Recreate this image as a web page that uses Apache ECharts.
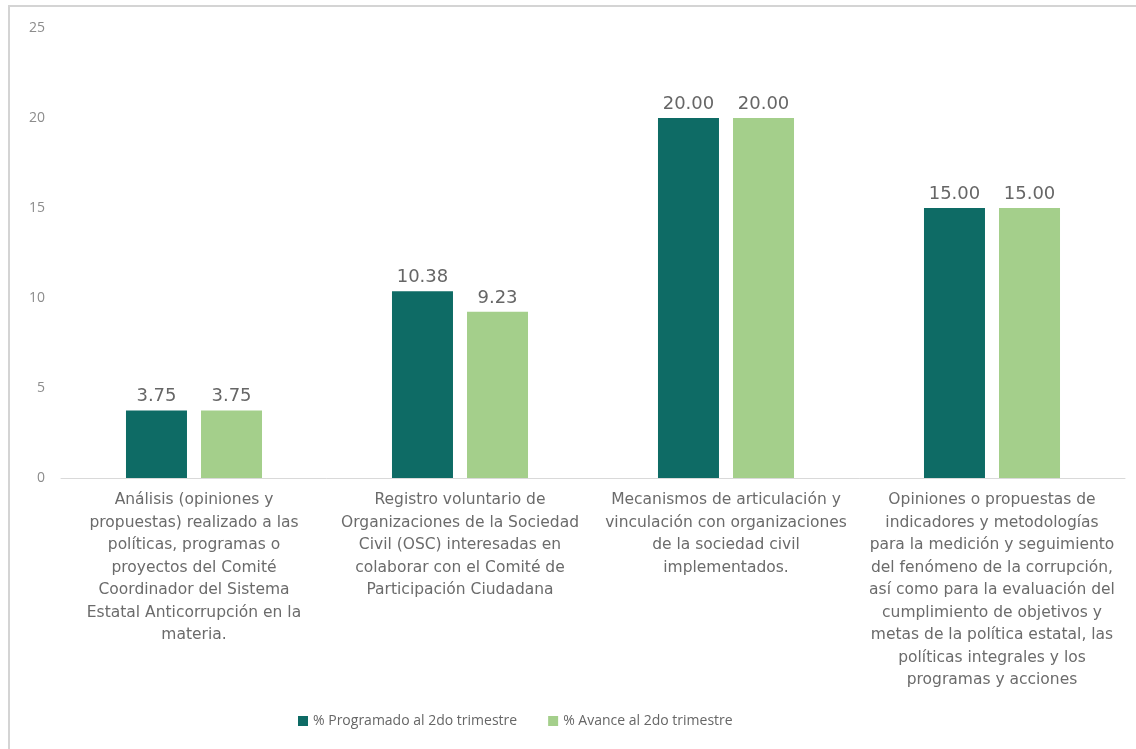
<!DOCTYPE html>
<html>
<head>
<meta charset="utf-8">
<script src="https://cdn.jsdelivr.net/npm/echarts@6/dist/echarts.min.js"></script>
<style>
  html, body { margin: 0; padding: 0; background: #fff; }
  #chart { width: 1136px; height: 749px; }
</style>
</head>
<body>
<div id="chart"></div>
<script>
// categorías (saltos de línea como en la gráfica original)
var categorias = [
    'Análisis (opiniones y\npropuestas) realizado a las\npolíticas, programas o\nproyectos del Comité\nCoordinador del Sistema\nEstatal Anticorrupción en la\nmateria.',
    'Registro voluntario de\nOrganizaciones de la Sociedad\nCivil (OSC) interesadas en\ncolaborar con el Comité de\nParticipación Ciudadana',
    'Mecanismos de articulación y\nvinculación con organizaciones\nde la sociedad civil\nimplementados.',
    'Opiniones o propuestas de\nindicadores y metodologías\npara la medición y seguimiento\ndel fenómeno de la corrupción,\nasí como para la evaluación del\ncumplimiento de objetivos y\nmetas de la política estatal, las\npolíticas integrales y los\nprogramas y acciones'
];
var programado = [3.75, 10.38, 20.00, 15.00];
var avance = [3.75, 9.23, 20.00, 15.00];
var nombres = ['% Programado al 2do trimestre', '% Avance al 2do trimestre'];
var yTicks = [0, 5, 10, 15, 20, 25];

var fuente = '"Open Sans", Lato, sans-serif';
var ancha = '"DejaVu Sans", sans-serif';
var chart = echarts.init(document.getElementById('chart'));

var etiqueta = {
    show: true,
    position: 'top',
    distance: 5,
    color: '#666',
    fontSize: 18,
    fontFamily: ancha,
    formatter: function (p) { return p.value.toFixed(2); }
};

var option = {
    backgroundColor: '#fff',
    animation: false,
    textStyle: { fontFamily: fuente },
    graphic: [{
        type: 'rect',
        shape: { x: 9, y: 6, width: 1140, height: 760 },
        style: { fill: 'none', stroke: '#d4d4d4', lineWidth: 2 },
        silent: true
    }],
    legend: {
        bottom: 16,
        left: 293,
        itemWidth: 10,
        itemHeight: 10,
        itemGap: 31,
        icon: 'rect',
        textStyle: { color: '#666', fontSize: 14, fontFamily: fuente },
        data: nombres
    },
    grid: { left: 61, right: 11, top: 28, bottom: 271 },
    xAxis: {
        type: 'category',
        data: categorias,
        axisLine: { lineStyle: { color: '#d9d9d9', width: 1 } },
        axisTick: { show: false },
        axisLabel: {
            interval: 0,
            color: '#6b6b6b',
            fontSize: 15.5,
            lineHeight: 22.5,
            margin: 11,
            fontFamily: ancha
        }
    },
    yAxis: {
        type: 'value',
        min: yTicks[0],
        max: yTicks[yTicks.length - 1],
        interval: 5,
        splitLine: { show: false },
        axisLine: { show: false },
        axisTick: { show: false },
        axisLabel: { color: '#8c8c8c', fontSize: 14, margin: 16, fontFamily: fuente }
    },
    series: [{
        name: nombres[0],
        type: 'bar',
        data: programado,
        barWidth: 61,
        barGap: '23%',
        itemStyle: { color: '#0e6b65' },
        label: etiqueta
    }, {
        name: nombres[1],
        type: 'bar',
        data: avance,
        barWidth: 61,
        itemStyle: { color: '#a4cf8b' },
        label: etiqueta
    }]
};
chart.setOption(option);
</script>
</body>
</html>
